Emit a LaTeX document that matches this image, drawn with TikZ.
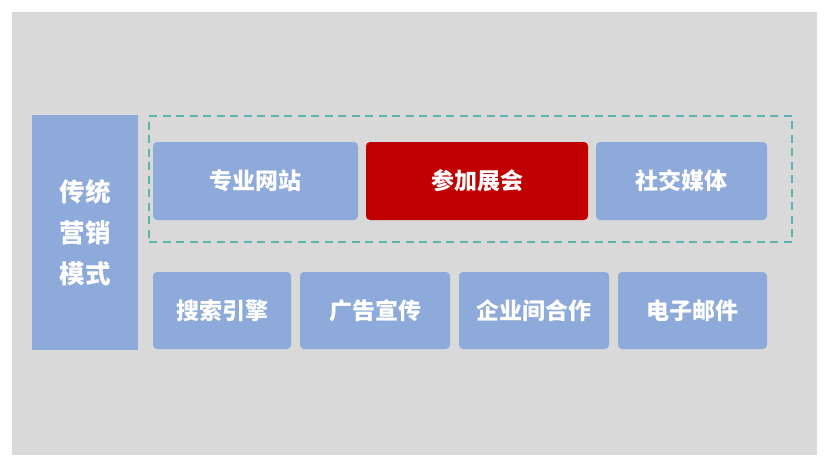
\documentclass[tikz,border=0pt]{standalone}
\usepackage{fontspec}
\newfontfamily\cjk{Noto Sans CJK SC}
\begin{document}
\begin{tikzpicture}[x=1pt,y=-1pt,
  bluebox/.style={fill=boxblue, draw=none, rounded corners=4pt, inner sep=0pt,
     text=white, font=\cjk\bfseries\fontsize{23}{26}\selectfont, minimum height=78pt},
  redbox/.style={bluebox, fill=boxred},
  groupbox/.style={draw=dashteal, line width=2.4pt, dash pattern=on 8pt off 5.5pt, inner sep=0pt}
]
\definecolor{bggray}{HTML}{D9D9D9}
\definecolor{boxblue}{HTML}{8EAADB}
\definecolor{boxred}{HTML}{C00000}
\definecolor{dashteal}{HTML}{5CB4AC}
\useasboundingbox (0,0) rectangle (827,467);
\fill[white] (0,0) rectangle (827,467);
\fill[bggray] (12,12) rectangle (817,455);
\node[bluebox, rounded corners=0pt, minimum width=106pt, minimum height=235pt, align=center,
  font=\cjk\bfseries\fontsize{25.5}{41}\selectfont] (trad) at (85,232.5) {传统\\营销\\模式};
\node[groupbox, minimum width=643pt, minimum height=126pt] (grp) at (470.5,179) {};
\node[bluebox, minimum width=205pt] (site) at (255.5,181) {专业网站};
\node[redbox, minimum width=222pt] (expo) at (477,181) {参加展会};
\node[bluebox, minimum width=171pt] (social) at (681.5,181) {社交媒体};
\node[bluebox, minimum width=138pt, minimum height=77pt] (search) at (222,310.5) {搜索引擎};
\node[bluebox, minimum width=150pt, minimum height=77pt] (ads) at (375,310.5) {广告宣传};
\node[bluebox, minimum width=150pt, minimum height=77pt] (coop) at (534,310.5) {企业间合作};
\node[bluebox, minimum width=149pt, minimum height=77pt] (mail) at (692.5,310.5) {电子邮件};
\end{tikzpicture}
\end{document}
